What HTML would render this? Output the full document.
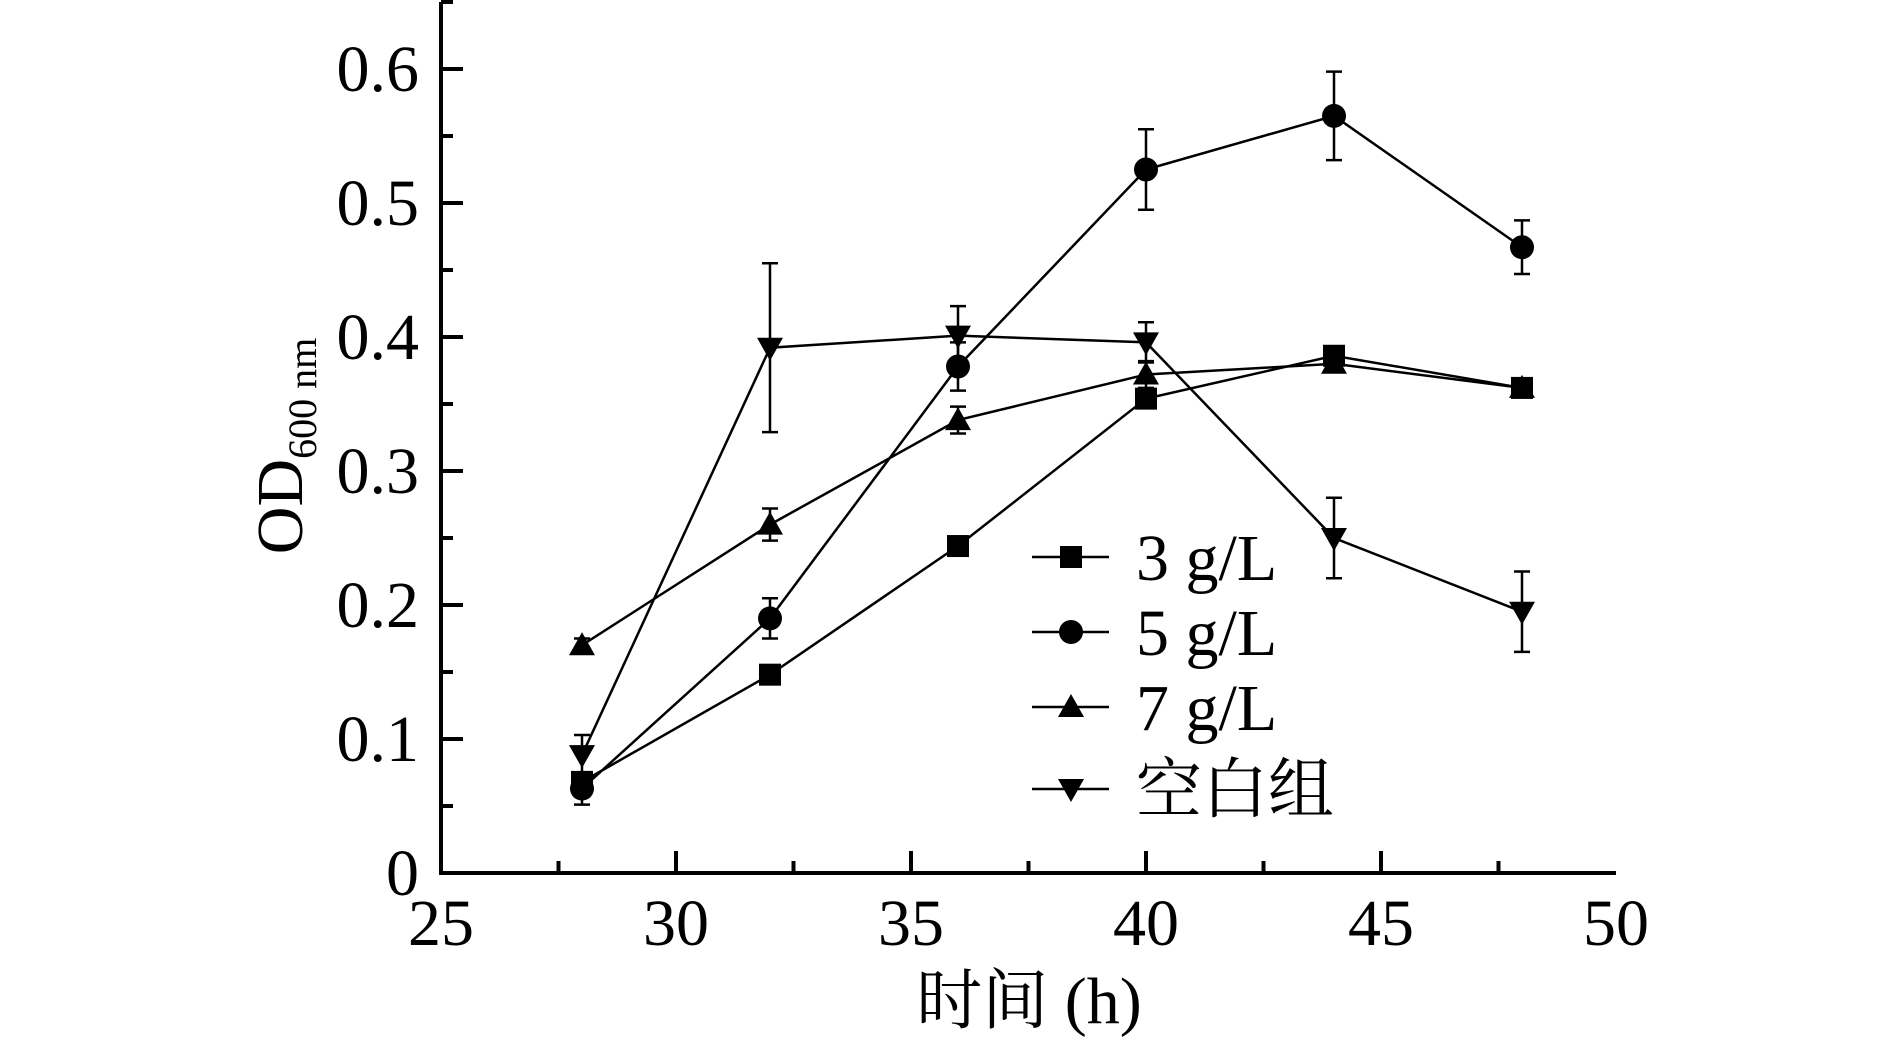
<!DOCTYPE html>
<html><head><meta charset="utf-8"><style>
body{margin:0;background:#fff}
svg text{font-family:"Liberation Serif","Noto Serif CJK SC",serif;fill:#000}
</style></head><body>
<svg width="1890" height="1044" viewBox="0 0 1890 1044">
<g id="axes"></g><g id="series"></g><g id="legend"></g>
<text x="1029" y="1023" font-size="66" text-anchor="middle">时间 (h)</text>
<text transform="translate(302,446) rotate(-90)" font-size="66" text-anchor="middle">OD<tspan font-size="40" dy="14">600 nm</tspan></text>
</svg>
<script>
const xTicks=[25,30,35,40,45,50];
const yTicks=[0,0.1,0.2,0.3,0.4,0.5,0.6];
const yTickLabels=['0','0.1','0.2','0.3','0.4','0.5','0.6'];
const times=[28,32,36,40,44,48];
const s3=[0.068,0.148,0.244,0.354,0.386,0.362];
const e3=[0.006,0.005,0.005,0.006,0.006,0.005];
const s5=[0.063,0.190,0.378,0.525,0.565,0.467];
const e5=[0.012,0.015,0.018,0.030,0.033,0.020];
const s7=[0.170,0.260,0.338,0.372,0.380,0.362];
const e7=[0.005,0.012,0.010,0.010,0.006,0.005];
const sB=[0.088,0.392,0.401,0.396,0.250,0.195];
const eB=[0.015,0.063,0.022,0.015,0.030,0.030];
const names=['3 g/L','5 g/L','7 g/L','空白组'];
const NS='http://www.w3.org/2000/svg';
const X=v=>441+(v-25)*47;
const Y=v=>873-v*1340;
function mk(tag,attrs,parent){const e=document.createElementNS(NS,tag);for(const k in attrs)e.setAttribute(k,attrs[k]);parent.appendChild(e);return e;}
const ax=document.getElementById('axes');
let a=mk('path',{d:`M${X(25)} ${Y(0.65)} V${Y(0)} H${X(50)}`,stroke:'#000','stroke-width':4,fill:'none'},ax);


for(let v=27.5;v<50;v+=2.5){const maj=Math.abs(v%5)<1e-6;const t=mk('line',{x1:X(v),x2:X(v),y1:Y(0),y2:Y(0)-(maj?22:12),stroke:'#000','stroke-width':4},ax);

}
xTicks.forEach(v=>{const t=mk('text',{x:X(v),y:Y(0)+72,'font-size':66,'text-anchor':'middle'},ax);t.textContent=v;

});
for(let i=1;i<=13;i++){const v=i*0.05;const maj=i%2==0;const t=mk('line',{x1:X(25),x2:X(25)+(maj?22:12),y1:Y(v),y2:Y(v),stroke:'#000','stroke-width':4},ax);

}
yTicks.forEach((v,i)=>{const t=mk('text',{x:X(25)-22,y:Y(v)+22,'font-size':66,'text-anchor':'end'},ax);t.textContent=yTickLabels[i];

});
function marker(type,x,y,p){
 const r=11;
 if(type==0)return mk('rect',{x:x-r,y:y-r,width:2*r,height:2*r,fill:'#000'},p);
 if(type==1)return mk('circle',{cx:x,cy:y,r:r+1,fill:'#000'},p);
 if(type==2)return mk('path',{d:`M${x} ${y-13} L${x+13} ${y+10} L${x-13} ${y+10}Z`,fill:'#000'},p);
 return mk('path',{d:`M${x} ${y+13} L${x+13} ${y-10} L${x-13} ${y-10}Z`,fill:'#000'},p);
}
const sg=document.getElementById('series');
[[s3,e3],[s5,e5],[s7,e7],[sB,eB]].forEach(([s,e],k)=>{
 const g=mk('g',{},sg);
 
 
 const l=mk('polyline',{points:times.map((t,i)=>X(t)+','+Y(s[i])).join(' '),fill:'none',stroke:'#000','stroke-width':2.5},g);
 
 
 times.forEach((t,i)=>{
  const eb=mk('path',{d:`M${X(t)} ${Y(s[i]+e[i])} V${Y(s[i]-e[i])} M${X(t)-8} ${Y(s[i]+e[i])} h16 M${X(t)-8} ${Y(s[i]-e[i])} h16`,stroke:'#000','stroke-width':2.5,fill:'none'},g);
  
  
  const m=marker(k,X(t),Y(s[i]),g);
  
  
 });
});
const lg=document.getElementById('legend');
const rows=[564,639,714,796];
names.forEach((n,k)=>{
 const g=mk('g',{},lg);
 
 
 const ry=rows[k]-7;
 mk('line',{x1:1032,x2:1109,y1:ry,y2:ry,stroke:'#000','stroke-width':2.5},g);
 marker(k,1071,ry,g);
 const t=mk('text',{x:1136,y:ry+23,'font-size':66},g);t.textContent=n;
});
</script>
</body></html>
